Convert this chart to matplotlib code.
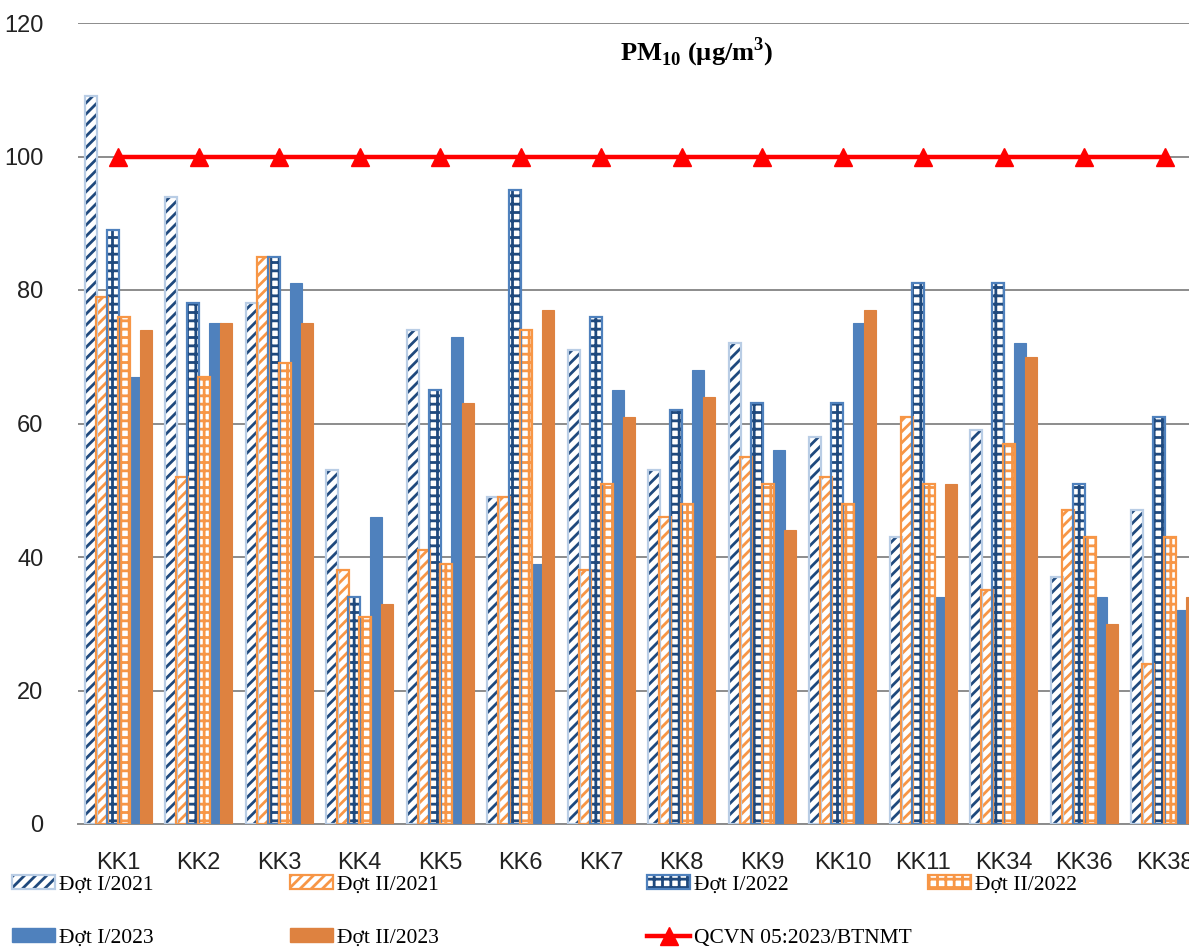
import matplotlib.pyplot as plt
import numpy as np
from matplotlib.patches import Patch
from matplotlib.lines import Line2D

plt.rcParams['hatch.linewidth'] = 2.0
plt.rcParams['mathtext.fontset'] = 'custom'
plt.rcParams['mathtext.rm'] = 'Liberation Serif'
plt.rcParams['mathtext.bf'] = 'Liberation Serif:bold'

# du lieu PM10
stations = ['KK1', 'KK2', 'KK3', 'KK4', 'KK5', 'KK6', 'KK7', 'KK8', 'KK9', 'KK10',
            'KK11', 'KK34', 'KK36', 'KK38']
dot1_2021 = [109, 94, 78, 53, 74, 49, 71, 53, 72, 58, 43, 59, 37, 47]
dot2_2021 = [79, 52, 85, 38, 41, 49, 38, 46, 55, 52, 61, 35, 47, 24]
dot1_2022 = [89, 78, 85, 34, 65, 95, 76, 62, 63, 63, 81, 81, 51, 61]
dot2_2022 = [76, 67, 69, 31, 39, 74, 51, 48, 51, 48, 51, 57, 43, 43]
dot1_2023 = [67, 75, 81, 46, 73, 39, 65, 68, 56, 75, 34, 72, 34, 32]
dot2_2023 = [74, 75, 75, 33, 63, 77, 61, 64, 44, 77, 51, 70, 30, 34]
qcvn = [100] * len(stations)

labels = ['Đợt I/2021', 'Đợt II/2021', 'Đợt I/2022', 'Đợt II/2022',
          'Đợt I/2023', 'Đợt II/2023', 'QCVN 05:2023/BTNMT']

navy = '#1F497D'
blue = '#4F81BD'
lblue = '#B9CDE5'
orange = '#F79646'
dorange = '#DE8240'

fig = plt.figure(figsize=(11.89, 9.48), dpi=100)
ax = fig.add_axes([78 / 1189, 124 / 948, 1127 / 1189, 801 / 948])

x = np.arange(len(stations))
step = 0.137
w = 0.145

# (values, face, hatch colour, hatch, edge)
series = [
    (dot1_2021, 'white', navy, '///', lblue),
    (dot2_2021, 'white', orange, '///', orange),
    (dot1_2022, 'white', navy, '++', blue),
    (dot2_2022, 'white', orange, '++', orange),
    (dot1_2023, blue, None, None, blue),
    (dot2_2023, dorange, None, None, dorange),
]

handles = []
for i, (vals, fc, hc, hatch, ec) in enumerate(series):
    pos = x + (i - 2.5) * step
    if hatch:
        ax.bar(pos, vals, width=w, color=fc, edgecolor=hc, hatch=hatch, linewidth=0, zorder=3)
        ax.bar(pos, vals, width=w, fill=False, edgecolor=ec, linewidth=1.6, zorder=4)
        handles.append((Patch(facecolor=fc, edgecolor=hc, hatch=hatch, linewidth=0),
                        Patch(fill=False, edgecolor=ec, linewidth=1.6)))
    else:
        ax.bar(pos, vals, width=w, color=fc, edgecolor=ec, linewidth=0.8, zorder=3)
        handles.append(Patch(facecolor=fc, edgecolor=ec))

ax.plot(x, qcvn, color='#FF0000', linewidth=3.2, marker='^', markersize=13, zorder=5)
handles.append(Line2D([], [], color='#FF0000', linewidth=3.2, marker='^', markersize=13))

ax.set_xlim(-0.5, 13.5)
ax.set_ylim(0, 120)
ax.set_yticks(range(0, 121, 20))
ax.set_xticks(x)
ax.set_xticklabels(stations)
ax.yaxis.grid(True, color='#8C8C8C', linewidth=1.4, zorder=0)
ax.set_axisbelow(True)
for s in ['top', 'right', 'left']:
    ax.spines[s].set_visible(False)
ax.spines['bottom'].set_color('#8C8C8C')
ax.spines['bottom'].set_linewidth(1.4)
ax.tick_params(axis='both', length=0, labelsize=17, labelcolor='#222222')
ax.tick_params(axis='x', pad=20)
ax.tick_params(axis='y', pad=25)
for t in ax.get_xticklabels() + ax.get_yticklabels():
    t.set_fontfamily('Liberation Sans')

fig.text(697 / 1189, 1 - 52 / 948, r'PM$_{\mathbf{10}}$ (µg/m$^{\mathbf{3}}$)',
         ha='center', va='center', fontsize=19, fontweight='bold', family='Liberation Serif')

# legend entries placed like the Excel legend (uneven columns)
spots = [(12, 885), (290, 885), (647, 885), (928, 885),
         (12, 938), (290, 938), (647, 938)]
for h, lab, (px, py) in zip(handles, labels, spots):
    lg = fig.legend([h], [lab], loc='center left', bbox_to_anchor=(px / 1189, 1 - py / 948),
                    frameon=False, prop={'family': 'Liberation Serif', 'size': 15.5},
                    handlelength=2.0, handleheight=0.6, handletextpad=0.2,
                    borderaxespad=0, borderpad=0)

fig.savefig('out.png', dpi=100)
